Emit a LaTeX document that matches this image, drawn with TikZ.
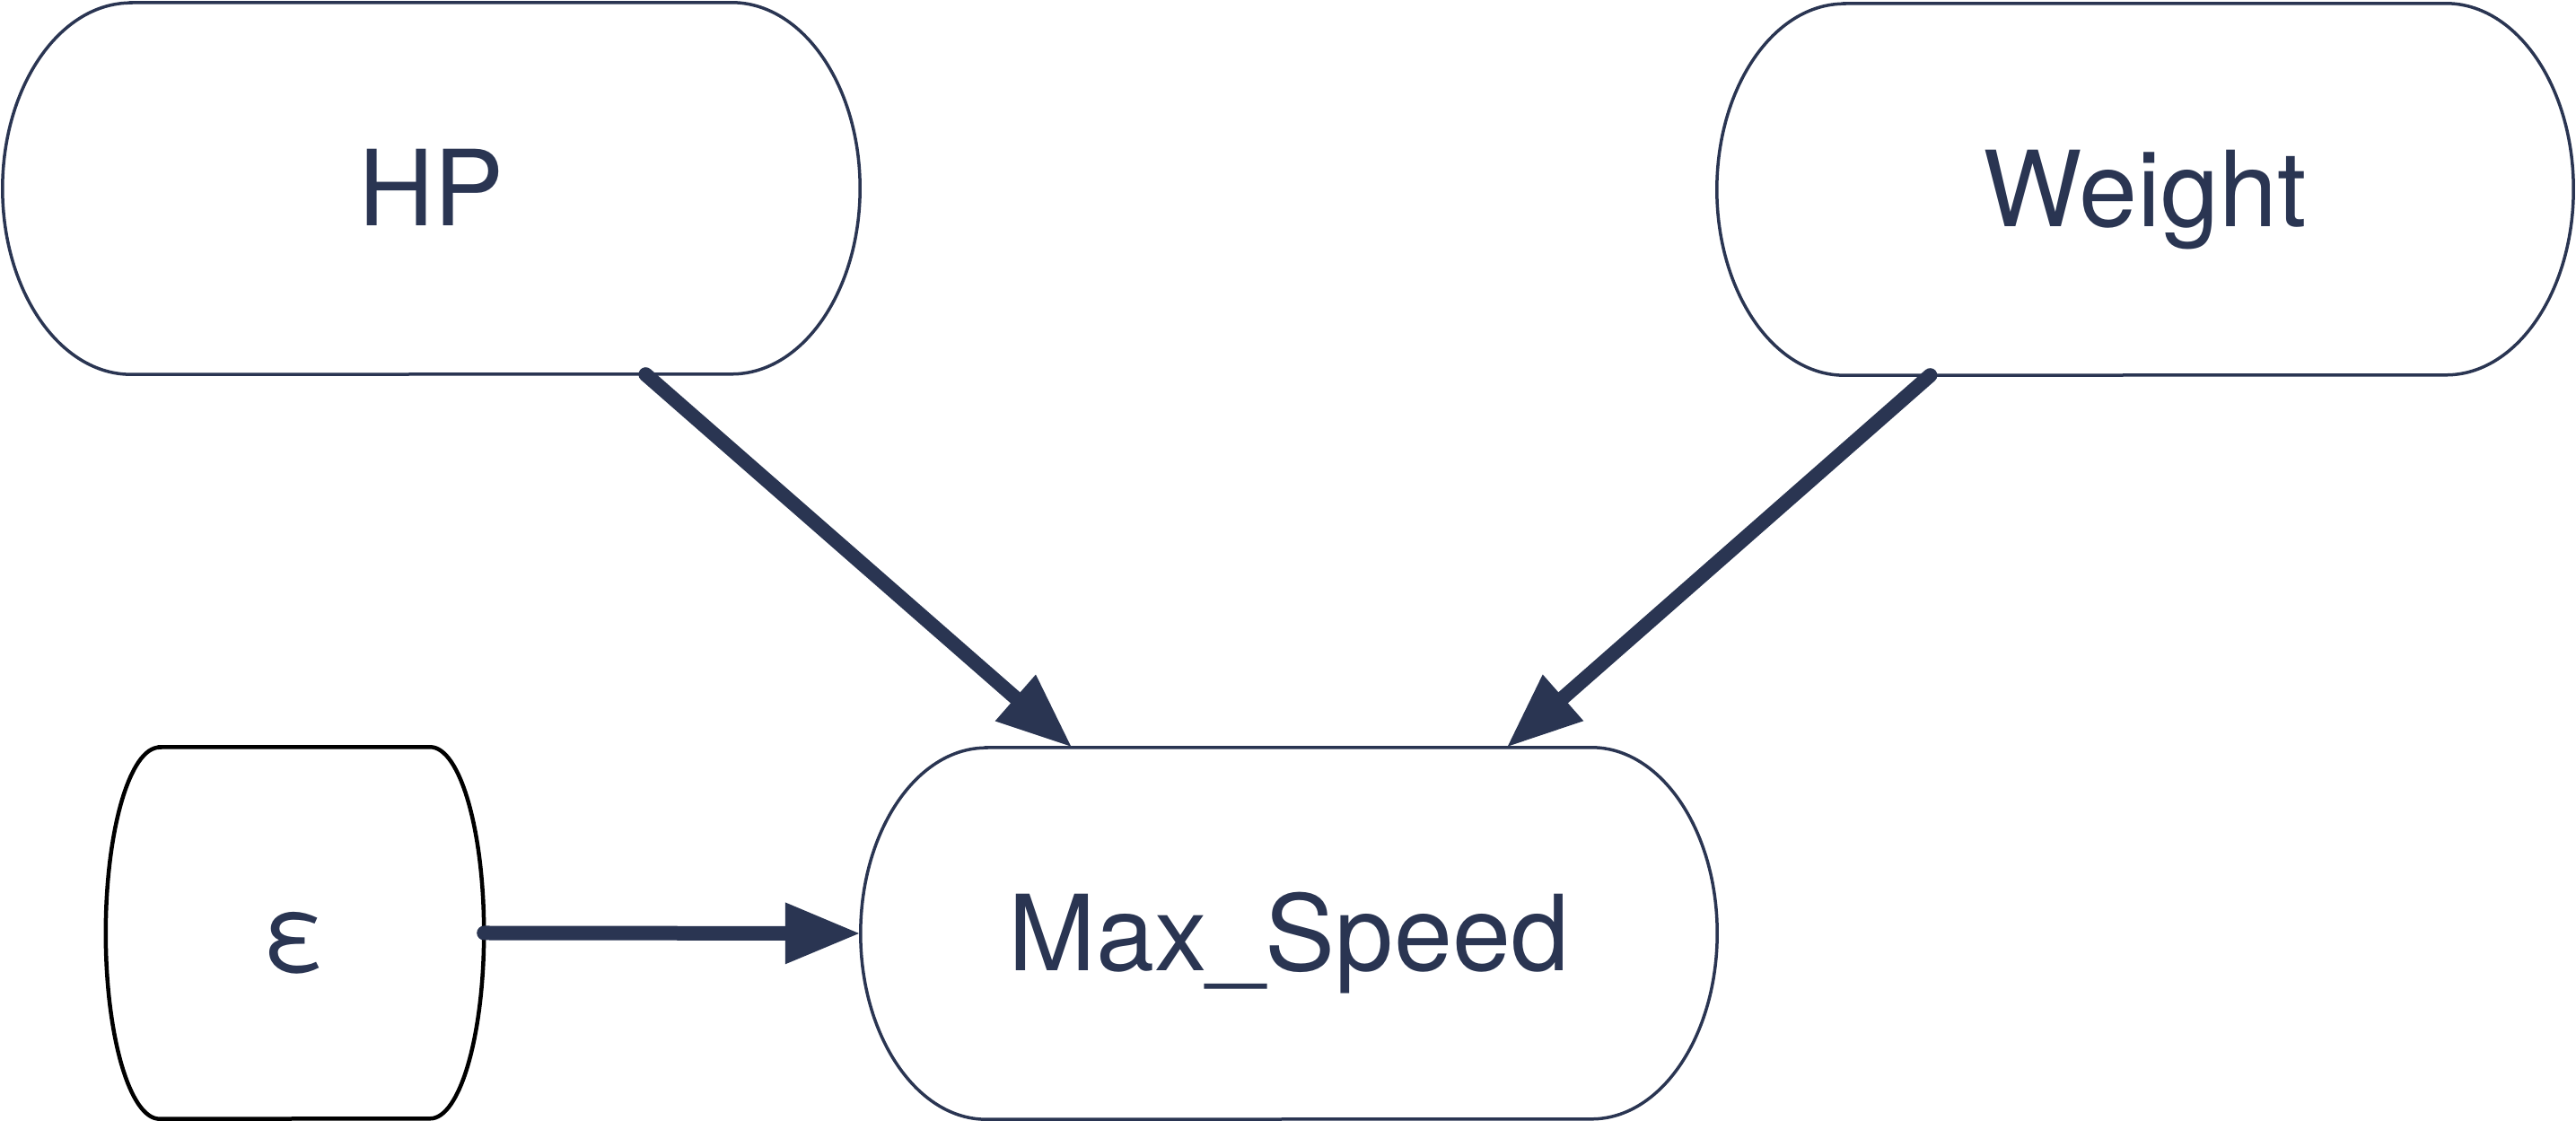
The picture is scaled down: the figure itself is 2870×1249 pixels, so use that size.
\documentclass[tikz,border=0pt]{standalone}
\usepackage{fontspec}
\setmainfont{TeX Gyre Heros}
\usetikzlibrary{arrows.meta,calc}
\definecolor{navy}{HTML}{2A3552}
\newcommand\stadiumoutline[3]{%
  \draw[#3] ([xshift=#2]#1.north west) -- ([xshift=-#2]#1.north east)
    arc[start angle=90,end angle=-90,x radius=#2,y radius=207pt]
    -- ([xshift=#2]#1.south west)
    arc[start angle=270,end angle=90,x radius=#2,y radius=207pt] -- cycle;}
\begin{document}
\begin{tikzpicture}[x=1pt,y=1pt,
  box/.style={rectangle, inner sep=0pt, minimum height=414pt, text=navy,
    font=\fontsize{117}{140}\selectfont, text height=84pt, text depth=0pt},
  conn/.style={draw=navy, line width=16pt, line cap=round,
    -{Triangle[length=84pt,width=64pt]}},
  outline/.style={draw=navy, line width=3.5pt},
  blackoutline/.style={draw=black, line width=4.5pt}]
\fill[white] (0,0) rectangle (2870,1249);
\useasboundingbox (0,0) rectangle (2870,1249);
\node[box, minimum width=955pt] (hp) at (480.5,1039) {HP};
\node[box, minimum width=954pt] (weight) at (2390,1038) {Weight};
\node[box, minimum width=421pt] (eps) at (328.5,209.5) {ε};
\node[box, minimum width=954pt] (max) at (1436,209) {Max\_Speed};
\stadiumoutline{hp}{143pt}{outline}
\stadiumoutline{weight}{142pt}{outline}
\stadiumoutline{max}{140pt}{outline}
\stadiumoutline{eps}{60pt}{blackoutline}
\coordinate (hpout) at ($(hp.south west)!0.750!(hp.south east)$);
\coordinate (wout) at ($(weight.south west)!0.249!(weight.south east)$);
\coordinate (maxinl) at ($(max.north west)!0.247!(max.north east)$);
\coordinate (maxinr) at ($(max.north west)!0.754!(max.north east)$);
\draw[conn] (hpout) -- (maxinl);
\draw[conn] (wout) -- (maxinr);
\draw[conn] (eps.east) -- (max.west);
\end{tikzpicture}
\end{document}
